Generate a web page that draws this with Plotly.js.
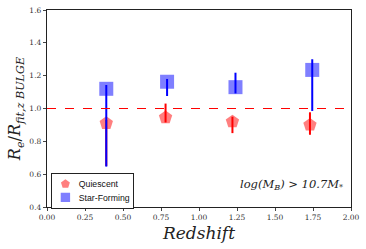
<!DOCTYPE html>
<html><head><meta charset="utf-8">
<script src="https://cdn.plot.ly/plotly-3.0.1.min.js"></script>
<style>body{margin:0;padding:0;background:#fff}#c{width:366px;height:249px}</style>
</head><body><div id="c"></div>
<script>
// Quiescent
const qZ = [0.39, 0.78, 1.22, 1.73];
const qVal = [0.91, 0.945, 0.92, 0.90];
const qErrUp = [0.02, 0.085, 0.03, 0.077];
const qErrDown = [0.26, 0.03, 0.07, 0.06];
// Star-Forming
const sZ = [0.39, 0.79, 1.24, 1.745];
const sVal = [1.12, 1.163, 1.13, 1.235];
const sErrUp = [0.023, 0.017, 0.088, 0.065];
const sErrDown = [0.474, 0.087, 0.038, 0.25];
const xTicks = [0, 0.25, 0.5, 0.75, 1.0, 1.25, 1.5, 1.75, 2.0];
const yTicks = [0.4, 0.6, 0.8, 1.0, 1.2, 1.4, 1.6];

const traces = [
 {x:qZ, y:qVal, mode:'markers', name:'Quiescent', type:'scatter',
  marker:{symbol:'pentagon', size:14, color:'rgba(255,0,0,0.5)', line:{width:0}}},
 {x:qZ, y:qVal, mode:'markers', showlegend:false, type:'scatter', hoverinfo:'skip',
  marker:{size:1, color:'rgba(0,0,0,0)'},
  error_y:{type:'data', symmetric:false, array:qErrUp, arrayminus:qErrDown, color:'#ff0000', thickness:2, width:0}},
 {x:sZ, y:sVal, mode:'markers', name:'Star-Forming', type:'scatter',
  marker:{symbol:'square', size:14, color:'rgba(0,0,255,0.5)', line:{width:0}}},
 {x:sZ, y:sVal, mode:'markers', showlegend:false, type:'scatter', hoverinfo:'skip',
  marker:{size:1, color:'rgba(0,0,0,0)'},
  error_y:{type:'data', symmetric:false, array:sErrUp, arrayminus:sErrDown, color:'#0000ff', thickness:2, width:0}}
];

const layout = {
 width:366, height:249,
 margin:{l:47, r:15, t:10, b:42},
 paper_bgcolor:'#fff', plot_bgcolor:'#fff',
 font:{family:'DejaVu Serif, serif', size:8, color:'#222'},
 xaxis:{range:[0,2], tickvals:xTicks, ticktext:xTicks.map(v=>v.toFixed(2)), ticks:'outside', ticklen:3,
   showline:true, mirror:true, linecolor:'#222', linewidth:1.2, showgrid:false, zeroline:false,
   tickfont:{family:'DejaVu Serif, serif', size:7.5, color:'#333'},
   title:{text:'<i>Redshift</i>', font:{family:'DejaVu Serif, serif', size:17, color:'#222'}, standoff:5}},
 yaxis:{range:[0.4,1.6], tickvals:yTicks, ticktext:yTicks.map(v=>v.toFixed(1)), ticks:'outside', ticklen:3,
   showline:true, mirror:true, linecolor:'#222', linewidth:1.2, showgrid:false, zeroline:false,
   tickfont:{family:'DejaVu Serif, serif', size:7.5, color:'#333'},
   title:{text:'<i>R<sub>e</sub></i>/<i>R<sub>fit,z BULGE</sub></i>', font:{family:'DejaVu Serif, serif', size:16, color:'#222'}, standoff:4}},
 shapes:[{type:'line', xref:'paper', x0:0, x1:1, yref:'y', y0:1, y1:1, line:{color:'#ff0000', width:1, dash:'dash'}}],
 legend:{x:0.013, y:0.173, xanchor:'left', yanchor:'top', bgcolor:'#fff', bordercolor:'#222', borderwidth:1.5,
   font:{family:'Liberation Sans, Arial, sans-serif', size:13, color:'#111'}, tracegroupgap:0, itemwidth:30},
 annotations:[{xref:'paper', yref:'paper', x:0.98, y:0.112, xanchor:'right', yanchor:'middle', showarrow:false,
   text:'<i>log(M<sub>B</sub>) > 10.7M<sub>*</sub></i>', font:{family:'DejaVu Serif, serif', size:11.5, color:'#222'}}]
};
Plotly.newPlot('c', traces, layout, {displayModeBar:false, staticPlot:true}).then(function(gd){
  // compact the library-drawn legend to matplotlib-like proportions
  const lg = gd.querySelector('.legend');
  if (!lg) return;
  lg.setAttribute('transform', 'translate(51,173) scale(0.67)');
});
</script></body></html>
